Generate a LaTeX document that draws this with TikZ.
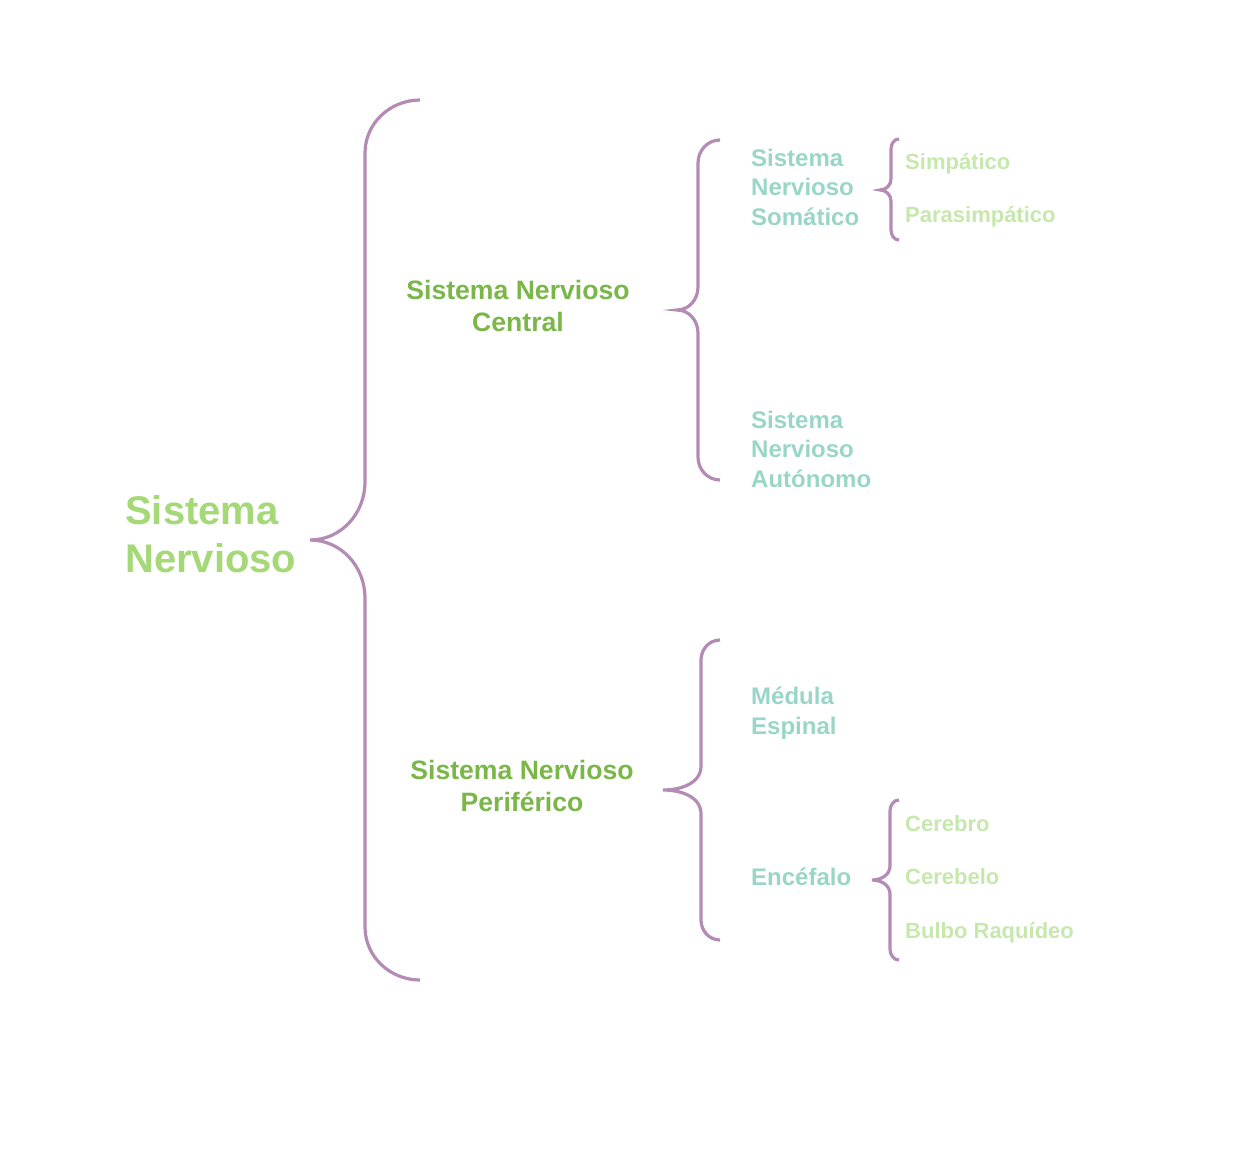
\documentclass[tikz,border=0pt]{standalone}
\usepackage{fontspec}
\setmainfont{Liberation Sans}
\usepackage{tikz}
\usetikzlibrary{positioning}
\definecolor{braceline}{HTML}{B38BB5}
\definecolor{rootgreen}{HTML}{A5D877}
\definecolor{midgreen}{HTML}{7AB648}
\definecolor{leafteal}{HTML}{99D5C9}
\definecolor{leafgreen}{HTML}{C6E8AC}

\tikzset{
  bracket/.style={draw=braceline, line width=3.2pt},
  rootlabel/.style={text=rootgreen, font=\bfseries\fontsize{40}{48}\selectfont, align=left, anchor=west, inner sep=0pt},
  midlabel/.style={text=midgreen, font=\bfseries\fontsize{26.6}{32}\selectfont, align=center, inner sep=0pt},
  teallabel/.style={text=leafteal, font=\bfseries\fontsize{24}{29.5}\selectfont, align=left, anchor=west, inner sep=0pt},
  leaflabel/.style={text=leafgreen, font=\bfseries\fontsize{22}{26.4}\selectfont, anchor=west, inner sep=0pt}
}

\begin{document}
\begin{tikzpicture}[x=1pt,y=-1pt]
  \useasboundingbox (0,0) rectangle (1260,1156);

  % labels
  \node[rootlabel] (root) at (125,534) {Sistema\\Nervioso};
  \node[midlabel] (central) at (518,306) {Sistema Nervioso\\Central};
  \node[midlabel] (perif) at (522,786) {Sistema Nervioso\\Periférico};
  \node[teallabel] (somatico) at (751,187) {Sistema\\Nervioso\\Somático};
  \node[teallabel] (autonomo) at (751,449) {Sistema\\Nervioso\\Autónomo};
  \node[teallabel] (medula) at (751,713) {Médula\\Espinal};
  \node[teallabel] (encefalo) at (751,877) {Encéfalo};
  \node[leaflabel] (simpatico) at (905,164) {Simpático};
  \node[leaflabel] (parasimp) at (905,217) {Parasimpático};
  \node[leaflabel] (cerebro) at (905,824) {Cerebro};
  \node[leaflabel] (cerebelo) at (905,877) {Cerebelo};
  \node[leaflabel] (bulbo) at (905,933) {Bulbo Raquídeo};

  % braces
  \draw[bracket] (420,100) to[out=180,in=90] (365,153) -- (365,482)
    to[out=-90,in=0] (310,540) to[out=0,in=90] (365,598) -- (365,927)
    to[out=-90,in=180] (420,980);
  \draw[bracket] (720,140) to[out=180,in=90] (698,163) -- (698,287)
    to[out=-90,in=0] (677,310) to[out=0,in=90] (698,333) -- (698,457)
    to[out=-90,in=180] (720,480);
  \draw[bracket] (720,640) to[out=180,in=90] (701,660) -- (701,766)
    to[out=-90,in=0] (663,790) to[out=0,in=90] (701,814) -- (701,920)
    to[out=-90,in=180] (720,940);
  \draw[bracket] (899,139) to[out=180,in=90] (891,149) -- (891,179)
    to[out=-90,in=0] (880,190) to[out=0,in=90] (891,201) -- (891,230)
    to[out=-90,in=180] (899,240);
  \draw[bracket] (899,800) to[out=180,in=90] (890,811) -- (890,866)
    to[out=-90,in=0] (872,880) to[out=0,in=90] (890,894) -- (890,949)
    to[out=-90,in=180] (899,960);
\end{tikzpicture}
\end{document}
